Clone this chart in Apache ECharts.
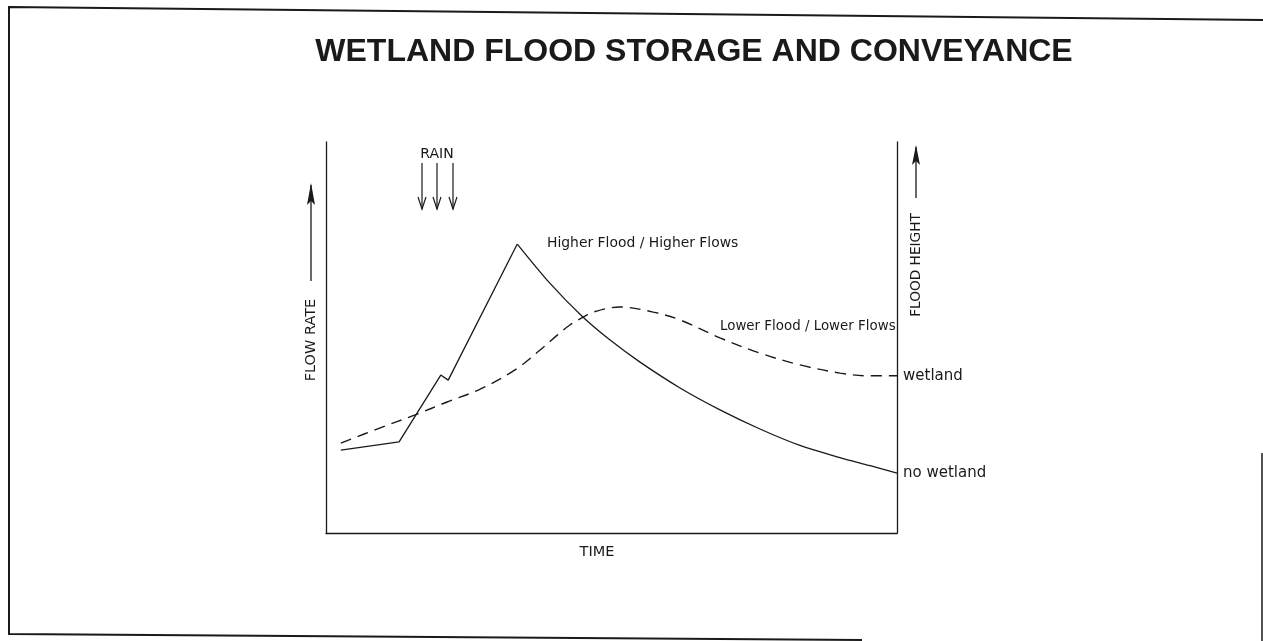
<!DOCTYPE html>
<html>
<head>
<meta charset="utf-8">
<script src="https://cdn.jsdelivr.net/npm/echarts@6/dist/echarts.min.js"></script>
<style>
html,body{margin:0;padding:0;background:#fff;}
#c{width:1263px;height:641px;}
</style>
</head>
<body>
<div id="c"></div>
<script>
// Time axis (0..100, arbitrary units) and flow (0..100, arbitrary units)
// "no wetland" hydrograph: rising limb (straight segments) and recession (smooth)
const noWetlandRiseTime = [2.6, 12.8, 20.1, 21.4, 33.5];
const noWetlandRiseFlow = [21.2, 23.3, 40.4, 39.1, 73.9];
const noWetlandFallTime = [33.5, 39.2, 44.8, 49.7, 55.0, 62.0, 69.0, 76.0, 83.0, 90.0, 95.3, 100];
const noWetlandFallFlow = [73.9, 63.9, 55.5, 49.4, 43.7, 37.1, 31.5, 26.6, 22.4, 19.3, 17.2, 15.3];
const wetlandTime = [2.6, 9.5, 15.6, 21.2, 27.0, 33.1, 37.5, 40.5, 42.7, 44.8, 46.8, 51.5, 57.3, 62.0, 69.0, 76.0, 83.0, 90.0, 95.3, 100];
const wetlandFlow = [23.0, 26.9, 30.2, 33.5, 36.8, 41.7, 46.8, 50.6, 53.2, 55.0, 56.5, 57.8, 56.5, 54.5, 49.9, 46.0, 43.0, 40.9, 40.2, 40.2];
const titleText = 'WETLAND FLOOD STORAGE AND CONVEYANCE';
const xName = 'TIME';
const yLeftName = 'FLOW RATE';
const yRightName = 'FLOOD HEIGHT';
const rainLabel = 'RAIN';
const highLabel = 'Higher Flood / Higher Flows';
const lowLabel = 'Lower Flood / Lower Flows';

const pair = (xs, ys) => xs.map((x, i) => [x, ys[i]]);
const ink = '#1a1a1a';
const lblFont = '"DejaVu Sans", sans-serif';

const chart = echarts.init(document.getElementById('c'), null, {renderer: 'canvas'});

function arrowV(x, y1, yTip, headLen, halfW) {
  return [
    {type: 'line', shape: {x1: x, y1: y1, x2: x, y2: yTip + 2}, style: {stroke: ink, lineWidth: 1.3}},
    {type: 'polygon', shape: {points: [[x, yTip], [x - halfW, yTip + headLen], [x, yTip + headLen - 4], [x + halfW, yTip + headLen]]}, style: {fill: ink}}
  ];
}
function rainArrow(x) {
  return [
    {type: 'line', shape: {x1: x, y1: 163, x2: x, y2: 209}, style: {stroke: ink, lineWidth: 1.2}},
    {type: 'polyline', shape: {points: [[x - 4, 197], [x, 209], [x + 4, 197]]}, style: {stroke: ink, lineWidth: 1.2, fill: null}}
  ];
}
const solidStyle = {color: ink, width: 1.3};

const option = {
  backgroundColor: '#ffffff',
  animation: false,
  title: {
    text: titleText,
    left: 689, top: 31, textAlign: 'center',
    textStyle: {fontFamily: '"Liberation Sans", Arial, sans-serif', fontWeight: 'bold', fontSize: 32, color: ink}
  },
  grid: {left: 326, right: 366, top: 142, bottom: 108, containLabel: false},
  xAxis: {
    type: 'value', min: 0, max: 100,
    axisLine: {show: true, onZero: false, lineStyle: {color: ink, width: 1.3}},
    axisTick: {show: false}, axisLabel: {show: false}, splitLine: {show: false}
  },
  yAxis: [
    {type: 'value', min: 0, max: 100, position: 'left',
     axisLine: {show: true, onZero: false, lineStyle: {color: ink, width: 1.3}},
     axisTick: {show: false}, axisLabel: {show: false}, splitLine: {show: false}},
    {type: 'value', min: 0, max: 100, position: 'right',
     axisLine: {show: true, onZero: false, lineStyle: {color: ink, width: 1.3}},
     axisTick: {show: false}, axisLabel: {show: false}, splitLine: {show: false}}
  ],
  series: [
    {
      name: 'no wetland', type: 'line', data: pair(noWetlandRiseTime, noWetlandRiseFlow),
      showSymbol: false, symbol: 'none', smooth: false,
      lineStyle: solidStyle
    },
    {
      name: 'no wetland', type: 'line', data: pair(noWetlandFallTime, noWetlandFallFlow),
      showSymbol: false, symbol: 'none', smooth: 0.3,
      lineStyle: solidStyle,
      endLabel: {show: true, formatter: 'no wetland', distance: 6, fontFamily: lblFont, fontSize: 15, color: ink}
    },
    {
      name: 'wetland', type: 'line', data: pair(wetlandTime, wetlandFlow),
      showSymbol: false, symbol: 'none', smooth: 0.35,
      lineStyle: {color: ink, width: 1.4, type: [11, 7]},
      endLabel: {show: true, formatter: 'wetland', distance: 6, fontFamily: lblFont, fontSize: 15, color: ink}
    }
  ],
  graphic: [
    // outer frame
    {type: 'polyline', shape: {points: [[1263, 20], [10, 7], [9, 7], [9, 634], [862, 640]]}, style: {stroke: ink, lineWidth: 2, fill: null}},
    {type: 'line', shape: {x1: 1262, y1: 453, x2: 1262, y2: 641}, style: {stroke: ink, lineWidth: 1.5}},
    // axis direction arrows
    ...arrowV(311, 281, 183, 22, 4),
    ...arrowV(916, 198, 145, 20, 4),
    // rain arrows
    ...rainArrow(422), ...rainArrow(437), ...rainArrow(453),
    {type: 'text', x: 437, y: 154, style: {text: rainLabel, textAlign: 'center', textVerticalAlign: 'middle', fontFamily: lblFont, fontSize: 14, fill: ink}},
    // axis titles
    {type: 'text', x: 311, y: 340, rotation: Math.PI / 2, style: {text: yLeftName, textAlign: 'center', textVerticalAlign: 'middle', fontFamily: lblFont, fontSize: 14.5, fill: ink}},
    {type: 'text', x: 916, y: 265, rotation: Math.PI / 2, style: {text: yRightName, textAlign: 'center', textVerticalAlign: 'middle', fontFamily: lblFont, fontSize: 13.7, fill: ink}},
    {type: 'text', x: 597, y: 552, style: {text: xName, textAlign: 'center', textVerticalAlign: 'middle', fontFamily: lblFont, fontSize: 14.5, fill: ink}},
    // curve annotations
    {type: 'text', x: 547, y: 243, style: {text: highLabel, textAlign: 'left', textVerticalAlign: 'middle', fontFamily: lblFont, fontSize: 13.9, fill: ink}},
    {type: 'text', x: 720, y: 327, style: {text: lowLabel, textAlign: 'left', textVerticalAlign: 'middle', fontFamily: lblFont, fontSize: 13.4, fill: ink}}
  ]
};
chart.setOption(option);
</script>
</body>
</html>
